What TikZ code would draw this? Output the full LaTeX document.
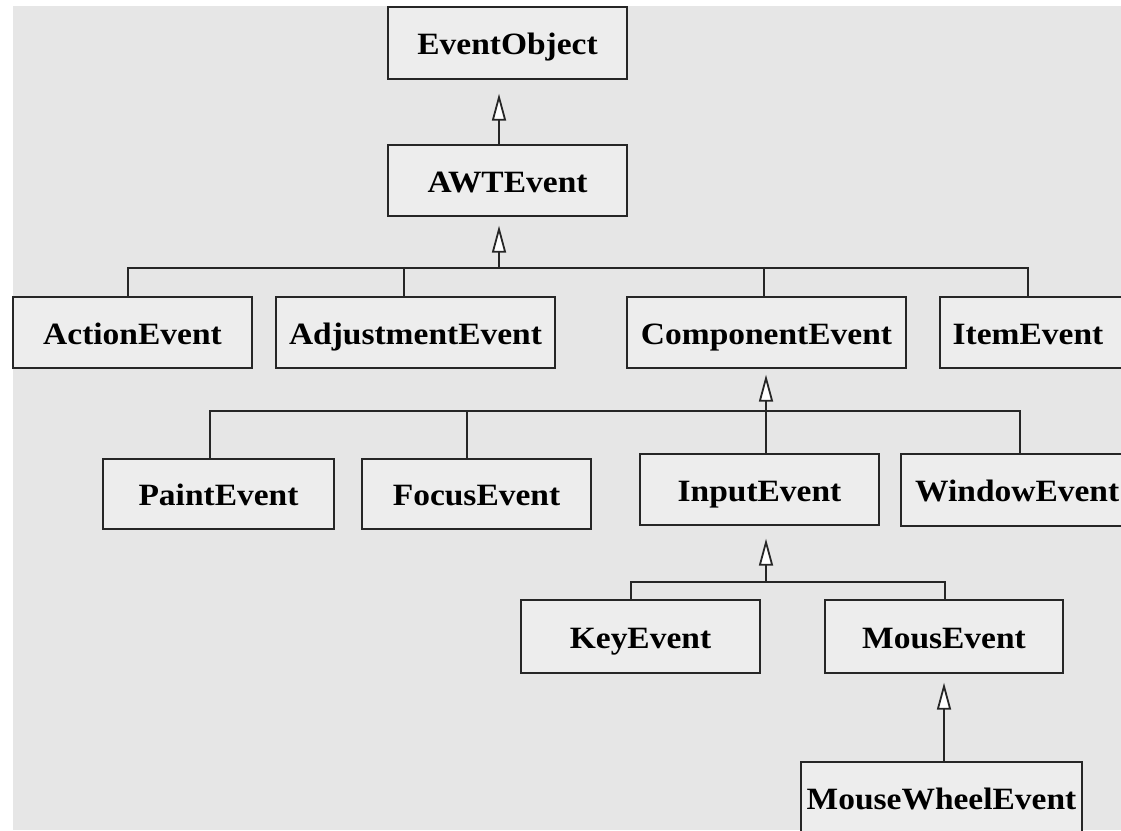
\documentclass[tikz,border=0pt]{standalone}
\usepackage{fontspec}
\newfontfamily\boxfont{Liberation Serif}[FakeStretch=1.08]
\usetikzlibrary{arrows.meta}
\definecolor{bggray}{HTML}{E6E6E6}
\definecolor{boxgray}{HTML}{EDEDED}
\definecolor{edgegray}{HTML}{262626}
\tikzset{
  label text/.style={inner sep=0pt, text height=23pt, text depth=0pt,
    font=\boxfont\bfseries\fontsize{31}{31}\selectfont, text=black},
  cls/.style={label text, draw=edgegray, fill=boxgray, line width=1.4pt},
  link/.style={draw=edgegray, line width=1.4pt},
  inh/.style={link, -{Triangle[length=27pt,width=14pt,fill=white,line width=1.8pt]}},
}
\begin{document}
\begin{tikzpicture}[x=1pt,y=-1pt]
\clip (0,0) rectangle (1121,830);
\fill[white] (0,0) rectangle (1121,830);
\fill[bggray] (13,6) rectangle (1121,830);

% level 0-1
\node[cls, minimum width=239pt, minimum height=72pt] (EO) at (507.5,43) {EventObject};
\node[cls, minimum width=239pt, minimum height=71pt] (AWT) at (507.5,180.5) {AWTEvent};

% level 2
\node[cls, minimum width=239pt, minimum height=71pt] (Action) at (132.5,332.5) {ActionEvent};
\node[cls, minimum width=279pt, minimum height=71pt] (Adjust) at (415.5,332.5) {AdjustmentEvent};
\node[cls, minimum width=279pt, minimum height=71pt] (Comp) at (766.5,332.5) {ComponentEvent};
\node[cls, minimum width=200pt, minimum height=71pt] (Item) at (1040,332.5) {};
\node[label text] (ItemT) at (1028,332.5) {ItemEvent};

% level 3
\node[cls, minimum width=231pt, minimum height=70pt] (Paint) at (218.5,494) {PaintEvent};
\node[cls, minimum width=229pt, minimum height=70pt] (Focus) at (476.5,494) {FocusEvent};
\node[cls, minimum width=239pt, minimum height=71pt] (Input) at (759.5,489.5) {InputEvent};
\node[cls, minimum width=240pt, minimum height=72pt] (Window) at (1021,490) {};
\node[label text, anchor=west] (WindowT) at (915,490) {WindowEvent};

% level 4
\node[cls, minimum width=239pt, minimum height=73pt] (Key) at (640.5,636.5) {KeyEvent};
\node[cls, minimum width=238pt, minimum height=73pt] (Mous) at (944,636.5) {MousEvent};

% level 5
\node[cls, minimum width=281pt, minimum height=72pt] (MWE) at (941.5,798) {MouseWheelEvent};

% connectors
\coordinate (bus1) at (499,268);
\coordinate (bus2) at (766,411);
\coordinate (bus3) at (766,582);

\draw[inh, shorten >=14pt] (AWT.north -| bus1) -- (EO.south -| bus1);
\draw[inh, shorten >=9pt] (bus1) -- (bus1 |- AWT.south);
\draw[link] ([xshift=-4.5pt]Action.north) |- (bus1);
\draw[link] ([xshift=-11.5pt]Adjust.north) |- (bus1);
\draw[link] ([xshift=-2.5pt]Comp.north) |- (bus1);
\draw[link] (Item.north -| ItemT.north) |- (bus1);

\draw[inh, shorten >=6pt] (bus2) -- (bus2 |- Comp.south);
\draw[link] ([xshift=-8.5pt]Paint.north) |- (bus2);
\draw[link] ([xshift=-9.5pt]Focus.north) |- (bus2);
\draw[link] ([xshift=6.5pt]Input.north) |- (bus2);
\draw[link] ([xshift=-1pt]Window.north) |- (bus2);

\draw[inh, shorten >=13pt] (bus3) -- (bus3 |- Input.south);
\draw[link] ([xshift=-9.5pt]Key.north) |- (bus3);
\draw[link] ([xshift=1pt]Mous.north) |- (bus3);

\draw[inh, shorten >=9pt] (MWE.north -| Mous.south) -- (Mous.south);
\end{tikzpicture}
\end{document}
